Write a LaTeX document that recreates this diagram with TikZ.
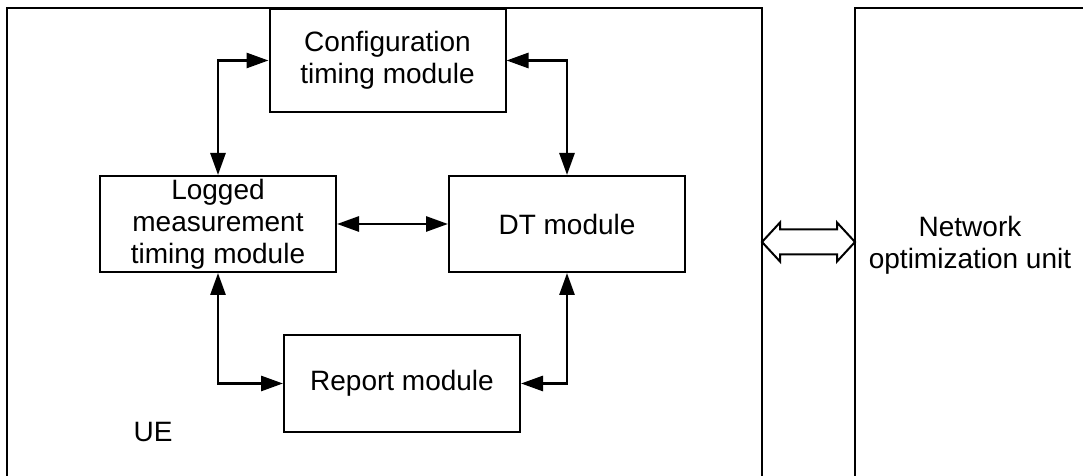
\documentclass[tikz,border=0pt]{standalone}
\usepackage{fontspec}
\setmainfont{Liberation Sans}
\usetikzlibrary{arrows.meta}
\begin{document}
\begin{tikzpicture}[x=1pt,y=1pt,
    module/.style={draw,line width=1pt,minimum width=118pt,minimum height=48pt,align=center,inner sep=1pt,font=\fontsize{14}{16}\selectfont},
    link/.style={line width=1.4pt,{Triangle[length=11pt,width=7.5pt]}-{Triangle[length=11pt,width=7.5pt]}},
    label text/.style={align=center,font=\fontsize{14}{16}\selectfont}]
    \useasboundingbox (0,0) rectangle (541.5,238);
    \begin{scope}
        \clip (0,0) rectangle (541.5,238);
        \draw[line width=1pt] (3.5,-10) -- (3.5,234) -- (381,234) -- (381,-10);
        \draw[line width=1pt] (427.5,-10) -- (427.5,234) -- (560,234);
    \end{scope}

    \node[module,minimum height=51.5pt] at (193.75, 207.75) (cfg) {Configuration\\timing module};
    \node[module] at (109, 126) (log) {Logged\\measurement\\timing module};
    \node[module] at (283.5, 126) (dt) {DT module};
    \node[module,minimum height=48.5pt] at (201, 46.25) (rep) {Report module};

    \node[label text] at (76.5, 22) (ue) {UE};
    \node[label text] at (485, 115.5) (nou) {Network\\optimization unit};

    \draw[link] (cfg.west) -| (log.north);
    \draw[link] (cfg.east) -| (dt.north);
    \draw[link] (log) -- (dt);
    \draw[link] (log.south) |- (rep.west);
    \draw[link] (dt.south) |- (rep.east);

    % interface between UE and network side
    \draw[line width=1pt,fill=white] (381,117) -- (390,126.75) -- (390,123.25) -- (418.5,123.25) -- (418.5,126.75)
        -- (427.5,117) -- (418.5,107.25) -- (418.5,110.75) -- (390,110.75) -- (390,107.25) -- cycle;
\end{tikzpicture}
\end{document}
